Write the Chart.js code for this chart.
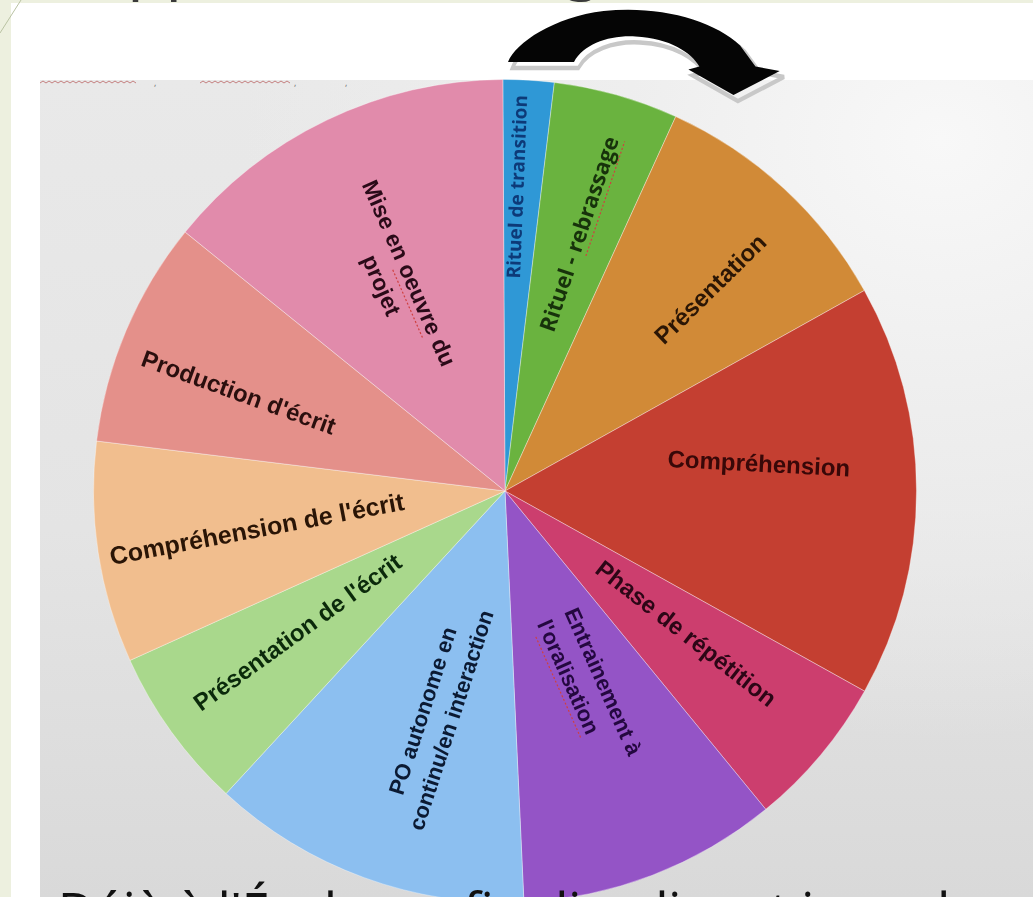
<!DOCTYPE html>
<html>
<head>
<meta charset="utf-8">
<script src="https://cdn.jsdelivr.net/npm/chart.js@4.4.1/dist/chart.umd.min.js"></script>
<style>
  body { margin: 0; width: 1033px; height: 897px; overflow: hidden; background: #fff; position: relative; font-family: "Noto Sans", sans-serif; }
  #strip { position: absolute; left: 0; top: 0; width: 11px; height: 897px; background: #edf0df; }
  #topstrip { position: absolute; left: 0; top: 0; width: 1033px; height: 3px; background: #edf0df; }
  #title { position: absolute; left: 88px; top: -79px; font-size: 62px; color: #3a3a3a; white-space: nowrap; }
  #photo { position: absolute; left: 40px; top: 80px; width: 993px; height: 817px;
    background: radial-gradient(ellipse 700px 600px at 900px 60px, #f8f8f8 0%, #eeeeee 45%, rgba(230,230,230,0) 100%),
                linear-gradient(180deg, #e9e9e9 0%, #e4e4e4 55%, #d9d9d9 100%); }
  #pie { position: absolute; left: 93px; top: 79px; }
  #bottom { position: absolute; left: 58px; top: 875px; font-size: 50px; color: #111; white-space: nowrap; }
  svg { position: absolute; left: 0; top: 0; }
</style>
</head>
<body>
<div id="strip"></div>
<div id="topstrip"></div>
<div id="title">Approche en langue</div>
<div id="photo"></div>
<svg width="1033" height="120">
  <line x1="0" y1="33" x2="21" y2="0" stroke="#b9c2a3" stroke-width="1"/>
  <polyline points="40,83 43,81 46,83 49,81 52,83 55,81 58,83 61,81 64,83 67,81 70,83 73,81 76,83 79,81 82,83 85,81 88,83 91,81 94,83 97,81 100,83 103,81 106,83 109,81 112,83 115,81 118,83 121,81 124,83 127,81 130,83 133,81 136,83"
            fill="none" stroke="#c48080" stroke-width="1"/>
  <polyline points="200,83 203,81 206,83 209,81 212,83 215,81 218,83 221,81 224,83 227,81 230,83 233,81 236,83 239,81 242,83 245,81 248,83 251,81 254,83 257,81 260,83 263,81 266,83 269,81 272,83 275,81 278,83 281,81 284,83 287,81 290,83"
            fill="none" stroke="#c48080" stroke-width="1"/>
  <text x="154" y="86" font-size="9" fill="#777">,</text>
  <text x="294" y="86" font-size="9" fill="#777">,</text>
  <text x="345" y="86" font-size="9" fill="#777">,</text>
  <g transform="translate(508,62) scale(1.1,1.5) translate(-513,-48)">
    <path d="M513,48 C520,35 555,18 600,14 C650,10 700,20 724,37 L738,51 L760,54 L718,70 L677,53 L687,51 C680,42 660,32 629,31 C605,30 582,36 573,48 Z"
          fill="none" stroke="#c8c8c8" stroke-width="3" transform="translate(4,4)"/>
    <path d="M513,48 C520,35 555,18 600,14 C650,10 700,20 724,37 L738,51 L760,54 L718,70 L677,53 L687,51 C680,42 660,32 629,31 C605,30 582,36 573,48 Z"
          fill="#050505"/>
  </g>
</svg>
<canvas id="pie" width="824" height="824"></canvas>
<div id="bottom">Déjà à l'École : enfin dire, lire et jouer la scène à l'oral</div>

<script>
// slices, clockwise from the top
const categories = [
  ['Rituel de transition'],
  ['Rituel - rebrassage'],
  ['Présentation'],
  ['Compréhension'],
  ['Phase de répétition'],
  ['Entrainement à', "l'oralisation"],
  ['PO autonome en', 'continu/en interaction'],
  ["Présentation de l'écrit"],
  ["Compréhension de l'écrit"],
  ["Production d'écrit"],
  ['Mise en oeuvre du', 'projet']
];
// share of the session (%)
const shares = [2.0, 4.9, 10.1, 16.2, 6.0, 10.2, 12.6, 6.4, 8.7, 8.9, 14.1];

const sliceColors = ['#2f98d6', '#6ab33f', '#d18a37', '#c43f31', '#cc3e6e', '#9454c6',
                     '#8cbff0', '#a9d88c', '#f1be8e', '#e4908a', '#e18bab'];

// label placement: radius fraction, angle shift (deg), extra tilt (deg)
// squiggle = [line, word] underlined by the spell checker
const labelStyles = [
  { font: 'bold 19px "Open Sans"', color: '#0d3a78', r: 0.74, shift: -0.8, tilt: -1 },
  { font: 'bold 22px "Open Sans"', color: '#17320b', r: 0.65, shift: 0.7, tilt: 3, squiggle: [0, 'rebrassage'] },
  { font: 'bold 24px "Liberation Sans"', color: '#2b1605', r: 0.70, shift: 3.1, tilt: 3 },
  { font: 'bold 24px "Liberation Sans"', color: '#380808', r: 0.62, shift: -5.8, tilt: 3 },
  { font: 'bold 24px "Liberation Sans"', color: '#2c0616', r: 0.56, shift: -1.3, tilt: -2 },
  { font: 'bold 22px "Liberation Sans"', color: '#240840', r: 0.52, shift: -1.9, tilt: -3, align: 'left', squiggle: [1, 'oralisation'] },
  { font: 'bold 22px "Liberation Sans"', color: '#0b1a33', r: 0.57, shift: -3.5, tilt: -2 },
  { font: 'bold 24px "Liberation Sans"', color: '#0b2a0b', r: 0.61, shift: 1.2, tilt: 0 },
  { font: 'bold 25px "Liberation Sans"', color: '#2a1506', r: 0.61, shift: -0.4, tilt: -2 },
  { font: 'bold 24px "Liberation Sans"', color: '#2a0f0e', r: 0.69, shift: -3.0, tilt: -3 },
  { font: 'bold 23px "Liberation Sans"', color: '#2a0a18', r: 0.58, shift: -2.1, tilt: 2, squiggle: [0, 'oeuvre'] }
];

const sliceLabels = {
  id: 'sliceLabels',
  afterDatasetsDraw(chart) {
    const ctx = chart.ctx;
    const meta = chart.getDatasetMeta(0);
    meta.data.forEach((arc, i) => {
      const p = arc.getProps(['x', 'y', 'startAngle', 'endAngle', 'outerRadius'], true);
      const st = labelStyles[i];
      const mid = (p.startAngle + p.endAngle) / 2;
      const pos = mid + st.shift * Math.PI / 180;
      const cx = p.x + Math.cos(pos) * p.outerRadius * st.r;
      const cy = p.y + Math.sin(pos) * p.outerRadius * st.r;
      let rot = mid;
      if (Math.cos(rot) < -0.001) rot += Math.PI;
      rot += st.tilt * Math.PI / 180;
      const lines = categories[i];
      ctx.save();
      ctx.translate(cx, cy);
      ctx.rotate(rot);
      ctx.font = st.font;
      ctx.fillStyle = st.color;
      ctx.textBaseline = 'middle';
      ctx.textAlign = 'left';
      const lh = 30;
      const widest = Math.max(...lines.map(t => ctx.measureText(t).width));
      lines.forEach((t, k) => {
        const dy = (k - (lines.length - 1) / 2) * lh;
        const w = ctx.measureText(t).width;
        const x0 = st.align === 'left' ? -widest / 2 : -w / 2;
        ctx.fillText(t, x0, dy);
        if (st.squiggle && st.squiggle[0] === k) {
          const at = t.indexOf(st.squiggle[1]);
          const sx = x0 + ctx.measureText(t.slice(0, at)).width;
          const sw = ctx.measureText(st.squiggle[1]).width;
          ctx.save();
          ctx.strokeStyle = '#d04040';
          ctx.lineWidth = 1.2;
          ctx.setLineDash([2, 2]);
          ctx.beginPath();
          ctx.moveTo(sx, dy + 12);
          ctx.lineTo(sx + sw, dy + 12);
          ctx.stroke();
          ctx.restore();
        }
      });
      ctx.restore();
    });
  }
};

new Chart(document.getElementById('pie'), {
  type: 'pie',
  data: {
    labels: categories.map(c => c.join(' ')),
    datasets: [{
      data: shares,
      backgroundColor: sliceColors,
      borderColor: 'rgba(255,255,255,0.35)',
      borderWidth: 1
    }]
  },
  options: {
    responsive: false,
    animation: false,
    rotation: -0.3,
    layout: { padding: 0 },
    plugins: {
      legend: { display: false },
      tooltip: { enabled: false }
    }
  },
  plugins: [sliceLabels]
});
</script>
</body>
</html>
